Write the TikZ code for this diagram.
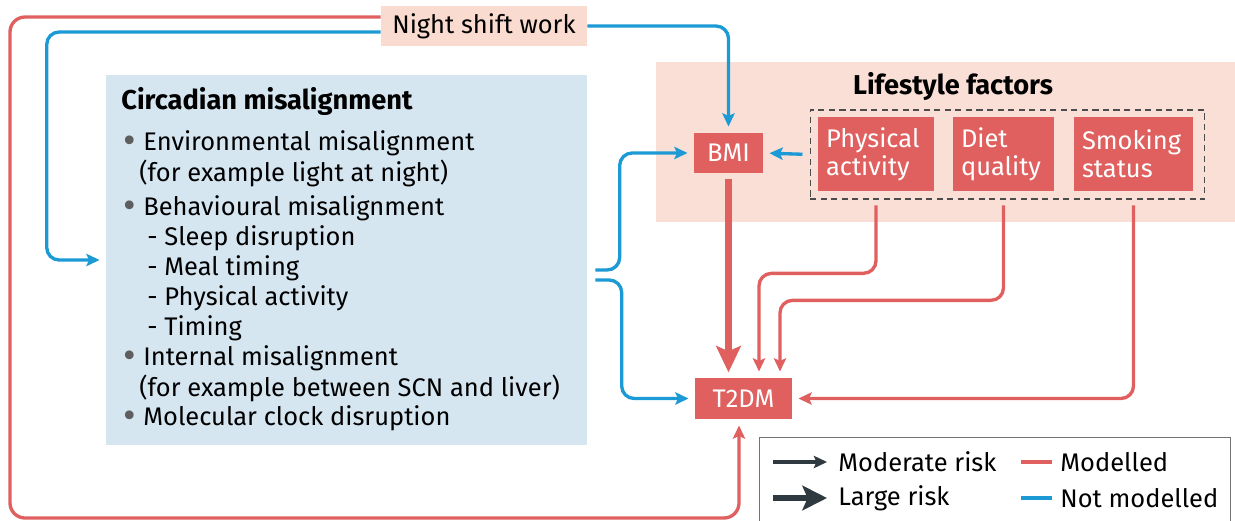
\documentclass[tikz,border=0pt]{standalone}
\usepackage{fontspec}
\setmainfont{Fira Sans}
\usetikzlibrary{positioning, arrows.meta, calc}
\definecolor{modred}{HTML}{E0605F}
\definecolor{notblue}{HTML}{1B9AD6}
\definecolor{circbg}{HTML}{D5E6F1}
\definecolor{lifebg}{HTML}{F9DFD6}
\definecolor{nightbg}{HTML}{FADBCF}
\definecolor{riskdark}{HTML}{2F3A40}
\definecolor{bulletgray}{HTML}{5E5E5E}

\begin{document}
\begin{tikzpicture}[x=0.02cm, y=-0.02cm, font=\fontsize{14.5}{16}\selectfont]
	\tikzset{
		redline/.style={draw=modred, line width=1.9pt, rounded corners=0.25cm},
		blueline/.style={draw=notblue, line width=1.9pt, rounded corners=0.25cm},
		modtip/.style={-{Stealth[length=7.5pt, width=7pt, inset=1.5pt]}, shorten >=3.5pt},
		bigtip/.style={-{Stealth[length=15pt, width=14pt, inset=3pt]}, line width=3.6pt, shorten >=3pt},
		factor/.style={fill=modred, text=white, align=left, inner xsep=0.16cm, inner ysep=0pt, minimum height=1.48cm, font=\fontsize{14.5}{16}\selectfont},
		riskbox/.style={fill=modred, text=white, inner sep=0pt, minimum height=0.8cm},
		bul/.style={anchor=center, text=bulletgray, inner sep=0pt, font=\fontsize{22}{22}\selectfont},
		item/.style={anchor=west, inner sep=0pt},
		heading/.style={font=\fontsize{15.5}{17}\selectfont\bfseries}
	}
	\useasboundingbox (0,0) rectangle (1235,521);

	% background panels
	\node[fill=circbg, minimum width=9.62cm, minimum height=7.4cm, inner sep=0pt] (circ) at (346.5,260) {};
	\node[fill=lifebg, minimum width=11.6cm, minimum height=3.2cm, inner sep=0pt] (life) at (946,142) {};
	\node[fill=nightbg, minimum width=4.12cm, minimum height=0.82cm, inner sep=0pt] (night) at (484,26) {Night shift work};

	% circadian misalignment list
	\node[item, heading] (ctitle) at (121,101) {Circadian misalignment};
	\foreach \yy/\txt [count=\i] in {143/Environmental misalignment, 208/Behavioural misalignment, 358/Internal misalignment, 418/Molecular clock disruption} {
		\node[bul] (dot\i) at (130,\yy+2) {\textbullet};
		\node[item] (main\i) at (143,\yy) {\txt};
	}
	\foreach \yy/\txt [count=\i] in {173/(for example light at night), 388/(for example between SCN and liver)}
		\node[item] (cont\i) at (139,\yy) {\txt};
	\foreach \yy/\txt [count=\i] in {238/Sleep disruption, 268/Meal timing, 298/Physical activity, 328/Timing}
		\node[item] (sub\i) at (147,\yy) {- \txt};

	% lifestyle factors
	\node[heading] (lifetitle) at (953,86) {Lifestyle factors};
	\node[draw=black!70, dashed, dash pattern=on 3.5pt off 2.5pt, line width=0.6pt, minimum width=7.9cm, minimum height=1.78cm, inner sep=0pt] (lfgroup) at (1007.5,154.5) {};
	\node[factor, text width=2.0cm] (phys) at (876,154) {Physical\\activity};
	\node[factor, text width=1.7cm] (diet) at (1003.5,154) {Diet\\quality};
	\node[factor, text width=2.06cm] (smoke) at (1133.5,154) {Smoking\\status};

	\node[riskbox, minimum width=1.38cm, minimum height=0.8cm] (bmi) at (728.5,153) {BMI};
	\node[riskbox, minimum width=1.94cm, minimum height=0.82cm] (t2dm) at (743.5,398.5) {T2DM};

	% not modelled paths
	\draw[blueline, modtip] (night.east) -| (bmi.north);
	\draw[blueline, modtip] ([yshift=-0.12cm]night.west) -| ([xshift=-1.18cm]circ.west) -- (circ.west);
	\draw[blueline, modtip] ([xshift=0.16cm, yshift=-0.2cm]circ.east) -| ([xshift=-1.48cm]bmi.west) -- (bmi.west);
	\draw[blueline, modtip] ([xshift=0.16cm, yshift=-0.4cm]circ.east) -| ([xshift=-1.46cm]t2dm.west) -- (t2dm.west);
	\draw[blueline, modtip, shorten <=4pt] (lfgroup.west) -- (bmi.east);

	% modelled paths
	\coordinate (loopcorner) at (10,518);
	\draw[redline, modtip, rounded corners=0.3cm] ([yshift=0.18cm]night.west) -| (loopcorner) -| ([xshift=-0.09cm]t2dm.south);
	\draw[draw=modred, bigtip, shorten <=3pt] (bmi.south) -- (bmi.south |- t2dm.north);
	\draw[redline, modtip] ([yshift=-0.28cm]phys.south) -- ++(0,68) -| ([xshift=0.31cm]t2dm.north);
	\draw[redline, modtip] ([yshift=-0.28cm]diet.south) -- ++(0,95) -| ([xshift=0.73cm]t2dm.north);
	\draw[redline, modtip] ([yshift=-0.28cm]smoke.south) |- (t2dm.east);

	% legend
	\node[draw=black!55, line width=0.8pt, minimum width=9.42cm, minimum height=1.9cm, anchor=north west, inner sep=0pt] (legend) at (759,437) {};
	\node[item] (lmod) at (838,462) {Moderate risk};
	\node[item] (llarge) at (838,498) {Large risk};
	\node[item] (lmodel) at (1060,462) {Modelled};
	\node[item] (lnot) at (1060,498) {Not modelled};
	\draw[draw=riskdark, line width=1.9pt, -{Stealth[length=7.5pt, width=7pt, inset=1.5pt]}] ([xshift=-1.3cm]lmod.west) -- ([xshift=-0.22cm]lmod.west);
	\draw[draw=riskdark, line width=3.6pt, -{Stealth[length=14pt, width=14pt, inset=3pt]}] ([xshift=-1.3cm]llarge.west) -- ([xshift=-0.22cm]llarge.west);
	\draw[draw=modred, line width=1.9pt] ([xshift=-0.78cm]lmodel.west) -- ([xshift=-0.16cm]lmodel.west);
	\draw[draw=notblue, line width=1.9pt] ([xshift=-0.78cm]lnot.west) -- ([xshift=-0.16cm]lnot.west);
\end{tikzpicture}
\end{document}
